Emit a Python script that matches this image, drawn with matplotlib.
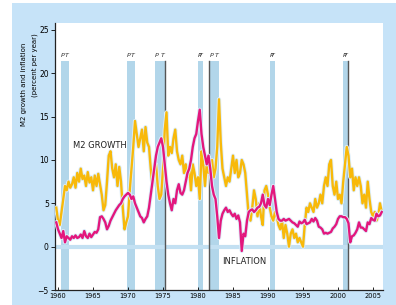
import numpy as np
import matplotlib
matplotlib.use("Agg")
import matplotlib.pyplot as plt
import matplotlib.patheffects as pe
from matplotlib.patches import Rectangle

# quarterly readings, starting 1959 Q4
start_year = 1959.75
m2_growth = [
    4.5,
    3.0, 2.5, 4.0, 5.5,      # 1960
    7.0, 6.5, 7.5, 6.8,      # 1961
    7.2, 8.0, 6.8, 8.5,      # 1962
    7.5, 9.0, 7.8, 8.2,      # 1963
    7.0, 8.6, 7.4, 8.0,      # 1964
    6.5, 8.2, 7.0, 8.4,      # 1965
    7.2, 6.0, 4.2, 4.8,      # 1966
    7.5, 10.5, 11.0, 9.0,    # 1967
    8.0, 9.5, 7.0, 9.2,      # 1968
    7.5, 4.5, 2.0, 2.8,      # 1969
    3.5, 6.5, 9.0, 11.5,     # 1970
    14.5, 13.0, 11.5, 12.5,  # 1971
    13.5, 11.0, 13.8, 12.0,  # 1972
    11.5, 9.0, 7.0, 8.5,     # 1973
    9.5, 7.0, 5.5, 6.0,      # 1974
    9.0, 13.5, 15.5, 10.5,   # 1975
    11.5, 10.8, 12.5, 13.5,  # 1976
    11.0, 10.0, 9.5, 10.5,   # 1977
    8.5, 9.5, 8.0, 9.0,      # 1978
    6.5, 9.5, 8.5, 7.0,      # 1979
    8.0, 5.5, 11.0, 9.5,     # 1980
    7.0, 9.5, 8.5, 9.0,      # 1981
    10.0, 8.0, 9.0, 11.5,    # 1982
    17.0, 12.0, 9.0, 8.0,    # 1983
    7.0, 8.0, 7.5, 9.0,      # 1984
    10.5, 8.5, 10.0, 8.0,    # 1985
    8.5, 10.0, 9.5, 8.5,     # 1986
    6.0, 3.5, 3.0, 4.5,      # 1987
    6.5, 5.5, 3.5, 5.0,      # 1988
    3.5, 2.5, 6.5, 7.0,      # 1989
    6.0, 4.5, 3.5, 3.0,      # 1990
    4.0, 3.5, 2.5, 2.0,      # 1991
    3.0, 1.0, 2.5, 1.5,      # 1992
    0.0, 1.5, 2.0, 1.0,      # 1993
    1.5, 0.5, 1.0, 0.5,      # 1994
    0.0, 2.5, 4.5, 4.0,      # 1995
    5.0, 4.5, 4.0, 5.5,      # 1996
    4.5, 5.0, 6.0, 5.0,      # 1997
    7.0, 8.0, 7.0, 9.5,      # 1998
    10.0, 7.0, 6.0, 7.5,     # 1999
    5.5, 6.0, 5.0, 7.5,      # 2000
    9.5, 11.5, 10.5, 8.0,    # 2001
    9.0, 6.5, 8.0, 7.0,      # 2002
    8.0, 7.0, 5.0, 6.0,      # 2003
    4.5, 7.5, 5.5, 4.0,      # 2004
    3.5, 4.0, 3.0, 3.5,      # 2005
    5.0, 4.0,                # 2006
]
inflation = [
    2.8,
    2.0, 1.5, 1.0, 1.8,      # 1960
    0.5, 1.2, 1.0, 0.8,      # 1961
    1.2, 1.0, 1.3, 1.0,      # 1962
    1.1, 1.4, 1.0, 1.8,      # 1963
    1.2, 1.0, 1.5, 1.1,      # 1964
    1.4, 1.7, 1.6, 2.0,      # 1965
    3.4, 3.5, 3.2, 2.8,      # 1966
    2.0, 2.4, 3.0, 3.4,      # 1967
    3.8, 4.2, 4.5, 4.8,      # 1968
    5.0, 5.5, 5.8, 6.0,      # 1969
    6.2, 6.0, 5.5, 5.8,      # 1970
    5.0, 4.5, 4.0, 3.5,      # 1971
    3.3, 2.8, 3.2, 3.5,      # 1972
    4.5, 6.0, 7.5, 9.0,      # 1973
    10.5, 11.5, 12.0, 12.5,  # 1974
    11.5, 9.5, 7.5, 6.0,     # 1975
    5.0, 4.2, 5.5, 5.0,      # 1976
    6.5, 7.2, 6.2, 6.0,      # 1977
    6.5, 7.5, 8.5, 9.0,      # 1978
    10.0, 11.5, 12.5, 13.0,  # 1979
    14.5, 15.8, 13.0, 11.5,  # 1980
    10.5, 9.5, 10.5, 9.0,    # 1981
    7.0, 6.0, 5.5, 3.5,      # 1982
    1.0, 3.0, 3.8, 4.2,      # 1983
    4.5, 4.0, 4.2, 3.8,      # 1984
    3.5, 3.8, 3.2, 3.6,      # 1985
    2.8, -0.5, 1.5, 1.2,     # 1986
    3.0, 4.0, 4.2, 4.3,      # 1987
    4.0, 4.2, 4.5, 4.6,      # 1988
    5.0, 6.0, 4.8, 4.5,      # 1989
    5.5, 4.8, 6.0, 7.0,      # 1990
    5.5, 4.0, 3.2, 3.0,      # 1991
    3.0, 3.2, 3.0, 3.1,      # 1992
    3.2, 3.0, 2.8, 2.7,      # 1993
    2.5, 2.3, 2.9, 2.7,      # 1994
    2.8, 3.1, 2.6, 2.7,      # 1995
    2.8, 3.2, 2.9, 3.3,      # 1996
    3.0, 2.3, 2.2, 2.0,      # 1997
    1.5, 1.6, 1.5, 1.6,      # 1998
    1.7, 2.1, 2.3, 2.6,      # 1999
    3.2, 3.5, 3.5, 3.4,      # 2000
    3.4, 3.2, 2.7, 0.5,      # 2001
    1.2, 1.3, 1.6, 2.0,      # 2002
    2.8, 2.2, 2.2, 2.0,      # 2003
    1.8, 2.8, 2.6, 3.3,      # 2004
    3.1, 3.0, 3.8, 3.5,      # 2005
    3.6, 4.0,                # 2006
]
# recession shading (peak, trough) and the dark marker lines
recessions = [(1960.4, 1961.5), (1969.9, 1971.0), (1973.9, 1975.3),
              (1980.0, 1980.7), (1981.7, 1983.0), (1990.3, 1991.0),
              (2000.7, 2001.4)]
dark_lines = [1975.3, 1981.6, 2001.4]
x_ticks = [1960, 1965, 1970, 1975, 1980, 1985, 1990, 1995, 2000, 2005]
y_ticks = [-5, 0, 5, 10, 15, 20, 25]

years = start_year + 0.25 * np.arange(len(m2_growth))

bg = '#c6e3f8'
bar_col = '#b2d6ea'
yellow = '#f8b90a'
magenta = '#e3177d'

fig = plt.figure(figsize=(3.96, 3.05), dpi=100, facecolor='white')
fig.patches.append(Rectangle((12 / 396, 0), 1, 302 / 305, transform=fig.transFigure,
                             facecolor=bg, edgecolor='none', zorder=-10))
ax = fig.add_axes([55 / 396, 15 / 305, 328 / 396, 267 / 305])
ax.set_zorder(1)
ax.set_facecolor('white')

ax.set_xlim(1959.57, 2006.43)
ax.set_ylim(-5, 25.8)

for p, t in recessions:
    ax.add_patch(Rectangle((p, -5), t - p, 26.4, facecolor=bar_col, edgecolor='none', zorder=1))
    ax.text(p, 21.8, 'P', fontsize=4.5, style='italic', ha='left', va='bottom', color='#333')
    ax.text(t, 21.8, 'T', fontsize=4.5, style='italic', ha='right', va='bottom', color='#333')
for d in dark_lines:
    ax.plot([d, d], [-5, 21.4], color='#555555', lw=1.0, zorder=2)

ax.axhline(0, color='#c3e0f2', lw=3, zorder=1.5)

halo = [pe.Stroke(linewidth=3.0, foreground='#dceefa'), pe.Normal()]
ax.plot(years, m2_growth, color=yellow, lw=1.7, zorder=3, path_effects=halo)
ax.plot(years, inflation, color=magenta, lw=1.7, zorder=4, path_effects=halo)

ax.text(1962.1, 11.7, 'M2 GROWTH', fontsize=6, ha='left', va='center', color='#222', zorder=5)
ax.text(1983.4, -1.7, 'INFLATION', fontsize=6, ha='left', va='center', color='#222', zorder=5)

ax.set_xticks(x_ticks)
ax.set_yticks(y_ticks)
ax.tick_params(axis='x', direction='in', length=2.5, width=0.6, labelsize=4.8, pad=2)
ax.tick_params(axis='y', direction='out', length=3, width=0.6, labelsize=5.5, pad=1.5)
for s in ['top', 'right']:
    ax.spines[s].set_visible(False)
for s in ['left', 'bottom']:
    ax.spines[s].set_linewidth(0.9)
    ax.spines[s].set_color('#222')

fig.text(24 / 396, 1 - 43 / 305, 'M2 growth and inflation', rotation=90, fontsize=5,
         ha='center', va='top')
fig.text(35 / 396, 1 - 33 / 305, '(percent per year)', rotation=90, fontsize=5,
         ha='center', va='top')

fig.savefig('out.png', dpi=100, facecolor=fig.get_facecolor())
